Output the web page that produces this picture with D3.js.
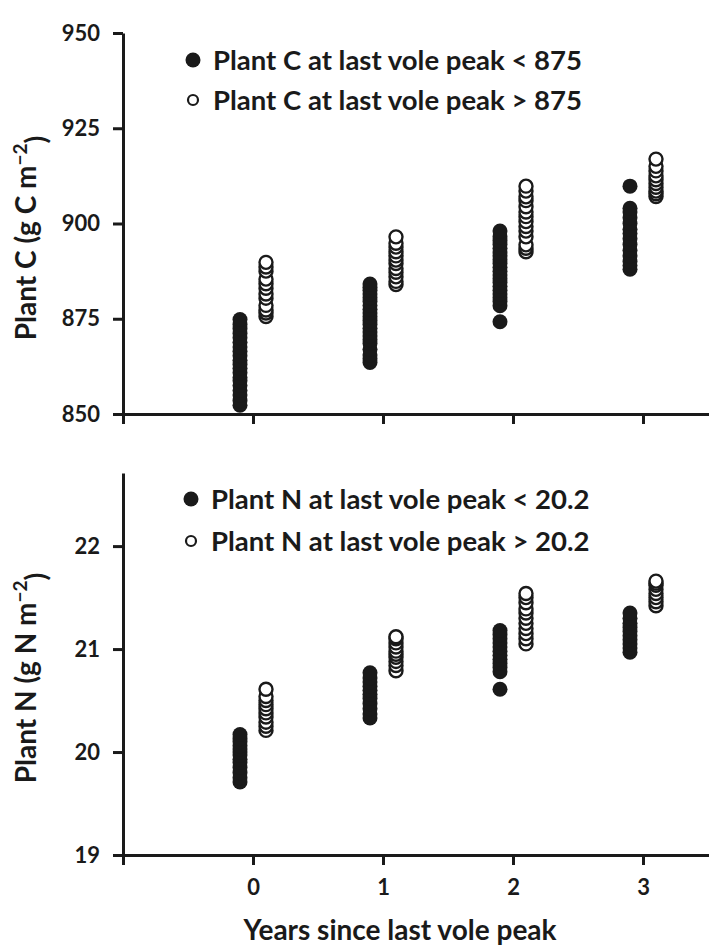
<!DOCTYPE html>
<html><head><meta charset="utf-8">
<script src="https://cdn.jsdelivr.net/npm/d3@7"></script>
<style>
body{margin:0;background:#fff;}
svg text{font-family:Lato,"Open Sans",sans-serif;font-weight:bold;fill:#1a1a1a;}
</style></head>
<body><svg id="c" width="709" height="950"></svg>
<script>
// ---- data ----
const years = [0, 1, 2, 3];
const xTickValues = [-1, 0, 1, 2, 3];
const cTickValues = [850, 875, 900, 925, 950];
const nTickValues = [19, 20, 21, 22];
const cLegend = ["Plant C at last vole peak < 875", "Plant C at last vole peak > 875"];
const nLegend = ["Plant N at last vole peak < 20.2", "Plant N at last vole peak > 20.2"];
const xTitle = "Years since last vole peak";

// Plant C, low group (filled) per year
const cLow = [
  [852.3,853.5,855,856.2,857.5,858.7,859.6,860.8,862,863,864.1,865.3,866.5,867.6,868.8,870,871.1,872.4,873.5,874.8],
  [863.5,864.5,865.5,867,868.5,869.5,870.5,871.5,872.5,873.5,874.5,875.5,876.5,877.5,878.5,879.5,880.5,881.5,882.5,883.3,884.1],
  [874.2,878.4,879.5,880.5,881.5,882.5,883.5,884.5,885.5,886.5,887.5,888.5,889.5,890.5,891.5,892.5,893.5,894.5,895.5,896.5,898],
  [888,889,890,891.5,893,894.5,896,897.4,898.5,900,901.5,903,904,909.8]
];
// Plant C, high group (open)
const cHigh = [
  [875.6,876.5,877.3,878.5,880.4,881.5,883,884.2,885.4,887.5,888.6,889.8],
  [884,884.8,886,887.2,888.2,889.5,890.4,891.5,892.6,893.8,894.8,896.5],
  [892.6,893.5,894.4,896.5,898,899.2,900.5,901.8,903,904.4,906,907,908.5,909.8],
  [907.1,907.8,908.5,909.5,910.5,911.5,912.5,913.8,915,916.9]
];
// Plant N, low group (filled)
const nLow = [
  [19.71,19.75,19.8,19.85,19.9,19.93,19.97,20.0,20.03,20.06,20.1,20.13,20.17],
  [20.33,20.37,20.42,20.47,20.52,20.56,20.6,20.64,20.68,20.72,20.77],
  [20.61,20.78,20.82,20.86,20.9,20.94,20.98,21.02,21.06,21.1,21.14,21.18],
  [20.97,21.01,21.05,21.09,21.13,21.17,21.21,21.25,21.3,21.35]
];
// Plant N, high group (open)
const nHigh = [
  [20.21,20.25,20.29,20.34,20.38,20.42,20.46,20.5,20.54,20.61],
  [20.79,20.84,20.88,20.92,20.95,20.98,21.02,21.06,21.1,21.12],
  [21.05,21.1,21.15,21.2,21.25,21.3,21.35,21.39,21.45,21.5,21.54],
  [21.42,21.46,21.5,21.54,21.58,21.62,21.64,21.66]
];

// ---- drawing ----
const svg = d3.select("#c");
const ink = "#1a1a1a";
const x = d3.scaleLinear().domain([-1, 3.5]).range([123, 708]);
const offset = 0.1;

function panel(cfg) {
  const g = svg.append("g");
  const y = d3.scaleLinear().domain(cfg.domain).range(cfg.range);
  const xa = g.append("g").attr("transform", `translate(0,${cfg.range[0]})`)
    .call(d3.axisBottom(x).tickValues(xTickValues).tickSize(10).tickSizeOuter(0).tickPadding(14)
      .tickFormat(d => (cfg.xLabels && d >= 0) ? d3.format("d")(d) : ""));
  const ya = g.append("g").attr("transform", `translate(${x(-1)},0)`)
    .call(d3.axisLeft(y).tickValues(cfg.ticks).tickSize(10).tickSizeOuter(0).tickPadding(13)
      .tickFormat(d3.format("d")));
  [xa, ya].forEach(a => {
    a.selectAll("path,line").attr("stroke", ink).attr("stroke-width", 3);
    a.selectAll("text").style("font-size", "22px").attr("fill", ink);
  });
  xa.select("path").attr("stroke-linecap", "square");

  // points
  years.forEach((yr, i) => {
    g.selectAll(null).data(cfg.low[i]).enter().append("circle")
      .attr("cx", x(yr - offset)).attr("cy", d => y(d)).attr("r", 7.5)
      .attr("fill", ink).attr("stroke", "none");
    g.selectAll(null).data(cfg.high[i]).enter().append("circle")
      .attr("cx", x(yr + offset)).attr("cy", d => y(d)).attr("r", 6.5)
      .attr("fill", "#fff").attr("stroke", ink).attr("stroke-width", 2.4);
  });

  // legend
  const lg = g.append("g");
  cfg.legend.forEach((t, i) => {
    const ly = cfg.legendY[i];
    if (i === 0) lg.append("circle").attr("cx", cfg.legendX).attr("cy", ly).attr("r", 7.5).attr("fill", ink);
    else lg.append("circle").attr("cx", cfg.legendX).attr("cy", ly).attr("r", 5).attr("fill", "#fff")
      .attr("stroke", ink).attr("stroke-width", 2.2);
    lg.append("text").attr("x", cfg.legendX + 20).attr("y", ly).attr("dy", "0.36em")
      .style("font-size", "27.5px").text(t);
  });

  // y title
  const yt = g.append("text").attr("transform", `translate(${cfg.titleX},${cfg.titleY}) rotate(-90)`)
    .attr("text-anchor", "middle").style("font-size", "28px");
  yt.append("tspan").text(cfg.title);
  yt.append("tspan").attr("dy", "-0.5em").style("font-size", "19px").text("\u22122");
  yt.append("tspan").attr("dy", "0.68em").text(")");
}

panel({domain: [850, 950], range: [414, 33], ticks: cTickValues, low: cLow, high: cHigh,
  legend: cLegend, legendX: 193, legendY: [60, 100], title: "Plant C (g C m", titleX: 36, titleY: 238, xLabels: false});
panel({domain: [19, 22.71], range: [855, 473], ticks: nTickValues, low: nLow, high: nHigh,
  legend: nLegend, legendX: 191, legendY: [499, 541], title: "Plant N (g N m", titleX: 36, titleY: 678, xLabels: true});

svg.append("text").attr("x", 400).attr("y", 940).attr("text-anchor", "middle")
  .style("font-size", "28px").text(xTitle);
</script></body></html>
